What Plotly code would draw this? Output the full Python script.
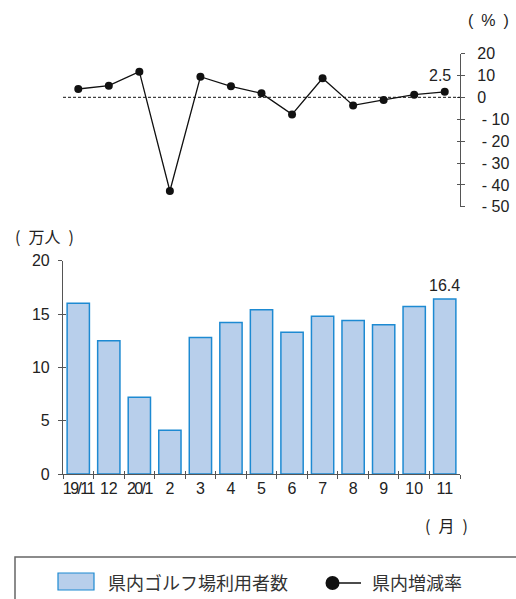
import plotly.graph_objects as go

# Monthly figures, Nov 2019 - Nov 2020
months = ["19/11", "12", "20/1", "2", "3", "4", "5", "6", "7", "8", "9", "10", "11"]
users = [16.0, 12.5, 7.2, 4.1, 12.8, 14.2, 15.4, 13.3, 14.8, 14.4, 14.0, 15.7, 16.4]  # 万人
rates = [3.8, 5.3, 11.7, -42.8, 9.4, 5.0, 1.8, -7.8, 8.7, -3.7, -1.2, 1.2, 2.5]   # %

rate_ticks = [20, 10, 0, -10, -20, -30, -40, -50]
rate_ticktext = [str(v) if v >= 0 else "\u00a0-\u00a0" + str(-v) for v in rate_ticks]
user_ticks = [0, 5, 10, 15, 20]
month_ticktext = [
    f'<span style="letter-spacing:-1.6px">{m}</span>' if "/" in m else m for m in months
]
month_bounds = [i - 0.5 for i in range(len(months) + 1)]
last = len(months) - 1  # category index of the latest month

W, H = 516, 599
ML, MR = 63, 56
NUM_FONT = "Liberation Sans, Arial, sans-serif"
JP_FONT = "Noto Sans CJK JP, sans-serif"
AXIS_COLOR = "#555555"
TEXT_COLOR = "#222222"
BAR_FILL = "#b8cfeb"
BAR_EDGE = "#1d8ad2"


def px(x):
    # pixel column -> paper fraction (paper spans the plot area horizontally)
    return (x - ML) / (W - ML - MR)


def py(y):
    return (H - y) / H


fig = go.Figure()

fig.add_trace(go.Scatter(
    x=months, y=rates, xaxis="x", yaxis="y",
    mode="lines+markers",
    line=dict(color="#111111", width=1.3),
    marker=dict(color="#111111", size=8),
    cliponaxis=False,
    showlegend=False,
))

fig.add_trace(go.Bar(
    x=months, y=users, xaxis="x2", yaxis="y2",
    marker=dict(color=BAR_FILL, line=dict(color=BAR_EDGE, width=1.5)),
    showlegend=False,
))

# empty traces that bring up the overlay axes carrying the inner half of each tick
fig.add_trace(go.Scatter(x=[None], y=[None], xaxis="x3", yaxis="y3",
                         showlegend=False, hoverinfo="skip"))
fig.add_trace(go.Scatter(x=[None], y=[None], xaxis="x", yaxis="y4",
                         showlegend=False, hoverinfo="skip"))

# zero reference of the rate panel
fig.add_shape(type="line", xref="x domain", yref="y", x0=0, x1=1, y0=0, y1=0,
              line=dict(color="#111111", width=1, dash="3px,2px"))

annotations = [
    dict(x=last, y=rates[last], xref="x", yref="y", text=f"{rates[last]}",
         xanchor="center", yanchor="bottom", showarrow=False, yshift=6, xshift=-5,
         font=dict(size=16, color=TEXT_COLOR, family=NUM_FONT)),
    dict(x=last, y=users[last], xref="x2", yref="y2", text=f"{users[last]}",
         xanchor="center", yanchor="bottom", showarrow=False, yshift=3,
         font=dict(size=16, color=TEXT_COLOR, family=NUM_FONT)),
    dict(x=px(488), y=py(21), xref="paper", yref="paper", text="(\u2002%\u2002)",
         xanchor="center", yanchor="middle", showarrow=False,
         font=dict(size=16, color=TEXT_COLOR, family=NUM_FONT)),
    dict(x=px(13), y=py(236), xref="paper", yref="paper", xanchor="left", yanchor="middle",
         text="(\u2002万人\u2002)", showarrow=False, font=dict(size=16, color=TEXT_COLOR, family=JP_FONT)),
    dict(x=px(446), y=py(525), xref="paper", yref="paper", xanchor="center", yanchor="middle",
         text="(\u2002月\u2002)", showarrow=False, font=dict(size=16, color=TEXT_COLOR, family=JP_FONT)),
    dict(x=px(106), y=py(581.5), xref="paper", yref="paper", xanchor="left", yanchor="middle",
         text="県内ゴルフ場利用者数", showarrow=False, font=dict(size=18, color="#333333", family=JP_FONT)),
    dict(x=px(370), y=py(581.5), xref="paper", yref="paper", xanchor="left", yanchor="middle",
         text="県内増減率", showarrow=False, font=dict(size=18, color="#333333", family=JP_FONT)),
]

# legend frame and keys
fig.add_shape(type="rect", xref="paper", yref="paper", x0=px(15), x1=px(530), y0=py(610), y1=py(557),
              line=dict(color="#666666", width=1.5))
fig.add_shape(type="rect", xref="paper", yref="paper", x0=px(58), x1=px(94), y0=py(590), y1=py(573),
              fillcolor=BAR_FILL, line=dict(color=BAR_EDGE, width=1.2))
fig.add_shape(type="line", xref="paper", yref="paper", x0=px(338), x1=px(361), y0=py(583), y1=py(583),
              line=dict(color="#111111", width=1.5))
fig.add_shape(type="circle", xref="paper", yref="paper", x0=px(325.5), x1=px(339.5), y0=py(590), y1=py(576),
              fillcolor="#111111", line=dict(color="#111111", width=0))

top_dom = [py(206.8), py(53.5)]
bar_dom = [py(474), py(260.7)]
tick_font = dict(size=16, color=TEXT_COLOR)

fig.update_layout(
    width=W, height=H,
    margin=dict(l=ML, r=MR, t=0, b=0, autoexpand=False),
    paper_bgcolor="white", plot_bgcolor="white",
    showlegend=False,
    bargap=0.27,
    font=dict(family=NUM_FONT, size=16, color=TEXT_COLOR),
    xaxis=dict(domain=[0, 1], anchor="y", type="category", range=[-0.5, 12.5], visible=False),
    yaxis=dict(domain=top_dom, anchor="x", side="right", range=[-50, 20],
               tickmode="array", tickvals=rate_ticks, ticktext=rate_ticktext,
               showline=True, linecolor=AXIS_COLOR, linewidth=1.2, automargin=False,
               ticks="outside", ticklen=4, tickcolor=AXIS_COLOR, ticklabelstandoff=9,
               showgrid=False, zeroline=False, tickfont=tick_font),
    yaxis4=dict(overlaying="y", anchor="x", side="right", range=[-50, 20],
                tickmode="array", tickvals=rate_ticks, showticklabels=False,
                ticks="inside", ticklen=3, tickcolor=AXIS_COLOR, showline=False,
                showgrid=False, zeroline=False, automargin=False),
    xaxis2=dict(domain=[0, 1], anchor="y2", type="category", range=[-0.5, 12.5],
                tickmode="array", tickvals=months, ticktext=month_ticktext, tickangle=0,
                tickson="boundaries", ticks="outside", ticklen=4, tickcolor=AXIS_COLOR,
                showline=True, linecolor=AXIS_COLOR, linewidth=1.2, automargin=False,
                showgrid=False, zeroline=False, tickfont=tick_font),
    yaxis2=dict(domain=bar_dom, anchor="x2", range=[0, 20],
                tickmode="array", tickvals=user_ticks, automargin=False,
                showline=True, linecolor=AXIS_COLOR, linewidth=1.2,
                ticks="outside", ticklen=4, tickcolor=AXIS_COLOR, ticklabelstandoff=5,
                showgrid=False, zeroline=False, tickfont=tick_font),
    xaxis3=dict(overlaying="x2", anchor="y3", range=[-0.5, 12.5],
                tickmode="array", tickvals=month_bounds, showticklabels=False,
                ticks="inside", ticklen=3, tickcolor=AXIS_COLOR, showline=False,
                showgrid=False, zeroline=False, automargin=False),
    yaxis3=dict(overlaying="y2", anchor="x3", range=[0, 20],
                tickmode="array", tickvals=user_ticks, showticklabels=False,
                ticks="inside", ticklen=3, tickcolor=AXIS_COLOR, showline=False,
                showgrid=False, zeroline=False, automargin=False),
    annotations=annotations,
)

fig.write_html("out.html")
